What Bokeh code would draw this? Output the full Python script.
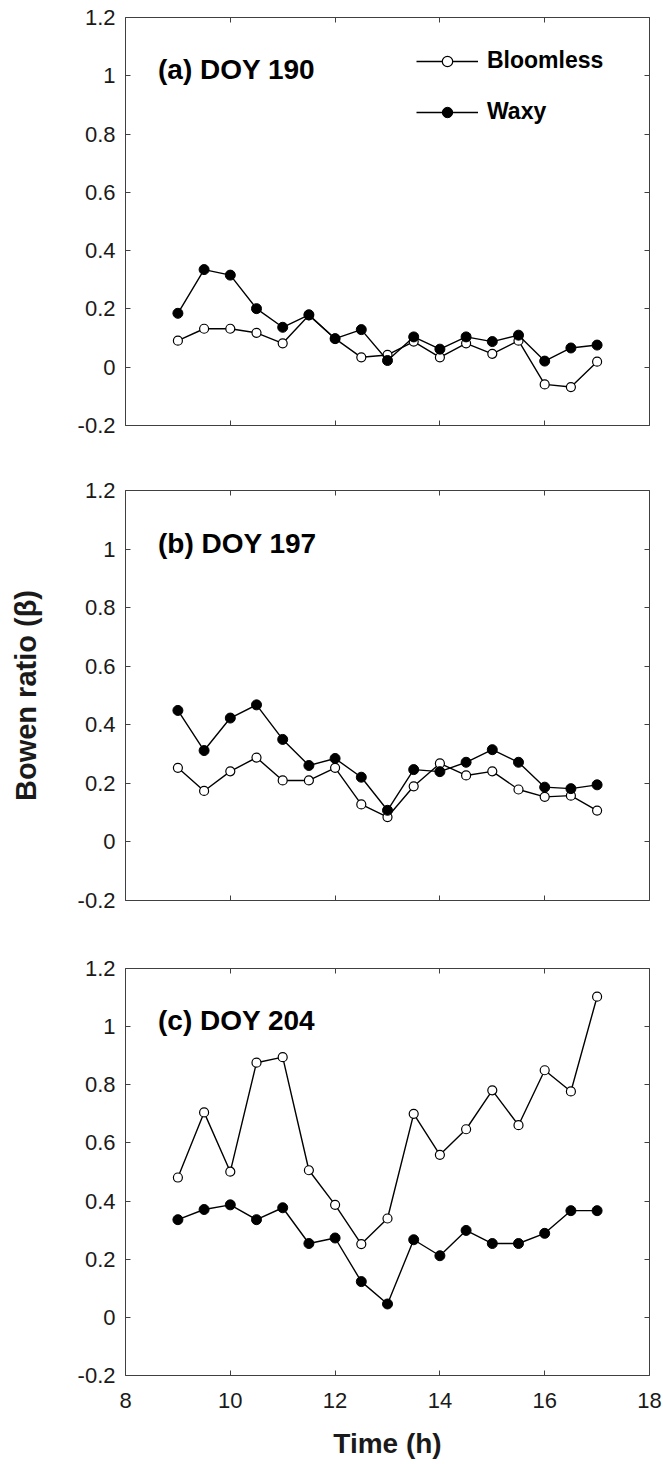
from bokeh.plotting import figure
from bokeh.layouts import column
from bokeh.models import Range1d, FixedTicker, LinearAxis, Label, Legend, LegendItem
from bokeh.embed import file_html
from bokeh.resources import INLINE

# ---------------- data ----------------
time_h = [9, 9.5, 10, 10.5, 11, 11.5, 12, 12.5, 13, 13.5, 14, 14.5, 15, 15.5, 16, 16.5, 17]

bloomless_190 = [0.091, 0.132, 0.132, 0.118, 0.082, 0.178, 0.098, 0.034, 0.042, 0.088,
                 0.034, 0.082, 0.046, 0.091, -0.059, -0.068, 0.019]
waxy_190 = [0.185, 0.335, 0.316, 0.201, 0.137, 0.180, 0.098, 0.129, 0.023, 0.104,
            0.062, 0.104, 0.088, 0.110, 0.021, 0.066, 0.076]

bloomless_197 = [0.253, 0.174, 0.241, 0.288, 0.210, 0.210, 0.253, 0.128, 0.085, 0.190,
                 0.268, 0.227, 0.241, 0.179, 0.154, 0.158, 0.107]
waxy_197 = [0.449, 0.312, 0.423, 0.468, 0.350, 0.261, 0.285, 0.221, 0.108, 0.247,
            0.240, 0.272, 0.315, 0.272, 0.187, 0.182, 0.195]

bloomless_204 = [0.481, 0.705, 0.501, 0.876, 0.895, 0.506, 0.387, 0.252, 0.340, 0.700,
                 0.559, 0.647, 0.781, 0.661, 0.850, 0.777, 1.103]
waxy_204 = [0.336, 0.371, 0.387, 0.336, 0.377, 0.254, 0.273, 0.123, 0.046, 0.267,
            0.212, 0.299, 0.254, 0.254, 0.289, 0.367, 0.367]

panel_titles = ["(a) DOY 190", "(b) DOY 197", "(c) DOY 204"]
series_names = ["Bloomless", "Waxy"]

x_ticks = [8, 10, 12, 14, 16, 18]
x_tick_labels = ["8", "10", "12", "14", "16", "18"]
y_ticks = [-0.2, 0, 0.2, 0.4, 0.6, 0.8, 1.0, 1.2]
y_tick_labels = ["-0.2", "0", "0.2", "0.4", "0.6", "0.8", "1", "1.2"]

x_label = "Time (h)"
y_label = "Bowen ratio (\u03b2)"

# ---------------- style ----------------
FONT = "Liberation Sans"
AX_COL = "#404040"
TXT_COL = "#1a1a1a"
W = 663
FRAME_LEFT = 125
FRAME_RIGHT = 14


def style_axis(ax, ticks, labels, show_labels, size="22px", standoff=10):
    ax.ticker = FixedTicker(ticks=ticks)
    ax.minor_tick_line_color = None
    ax.major_tick_in = 5
    ax.major_tick_out = 0
    ax.major_tick_line_color = AX_COL
    ax.axis_line_color = None
    ax.major_label_text_font = FONT
    ax.major_label_text_color = TXT_COL
    if show_labels:
        ax.major_label_overrides = {t: l for t, l in zip(ticks, labels)}
        ax.major_label_text_font_size = size
        ax.major_label_standoff = standoff
    else:
        ax.major_label_overrides = {t: "" for t in ticks}
        ax.major_label_text_font_size = "8px"
        ax.major_label_standoff = 0


def make_panel(idx, bloom, waxy, height, top, bottom, show_x, show_legend, show_ylab):
    p = figure(width=W, height=height, output_backend="svg", toolbar_location=None,
               x_range=Range1d(8, 18), y_range=Range1d(-0.2, 1.2),
               min_border_left=FRAME_LEFT, min_border_right=FRAME_RIGHT,
               min_border_top=top, min_border_bottom=bottom)
    p.grid.visible = False
    p.outline_line_color = AX_COL
    p.outline_line_width = 1
    p.background_fill_color = "white"
    p.border_fill_color = "white"

    bottom_ax = p.below[0]
    left_ax = p.left[0]
    style_axis(bottom_ax, x_ticks, x_tick_labels, show_x, standoff=17)
    style_axis(left_ax, y_ticks, y_tick_labels, True, standoff=10)

    if show_x:
        bottom_ax.axis_label = x_label
        bottom_ax.axis_label_text_font = FONT
        bottom_ax.axis_label_text_font_style = "bold"
        bottom_ax.axis_label_text_font_size = "28px"
        bottom_ax.axis_label_text_color = TXT_COL
        bottom_ax.axis_label_standoff = 17
    if show_ylab:
        left_ax.axis_label = y_label
        left_ax.axis_label_text_font = FONT
        left_ax.axis_label_text_font_style = "bold"
        left_ax.axis_label_text_font_size = "29px"
        left_ax.axis_label_text_color = TXT_COL
        left_ax.axis_label_standoff = 33

    top_ax = LinearAxis()
    style_axis(top_ax, x_ticks, x_tick_labels, False)
    p.add_layout(top_ax, "above")
    right_ax = LinearAxis()
    style_axis(right_ax, y_ticks, y_tick_labels, False)
    p.add_layout(right_ax, "right")

    lb = p.line(time_h, bloom, line_color="black", line_width=1.4)
    sb = p.scatter(time_h, bloom, size=9, marker="circle", fill_color="white",
                   line_color="black", line_width=1.2)
    lw = p.line(time_h, waxy, line_color="black", line_width=1.4)
    sw = p.scatter(time_h, waxy, size=10, marker="circle", fill_color="black",
                   line_color="black")

    p.add_layout(Label(x=8.62, y=1.02, text=panel_titles[idx], text_font=FONT,
                       text_font_style="bold", text_font_size="28px",
                       text_color="black", text_baseline="middle"))

    if show_legend:
        leg = Legend(items=[LegendItem(label=series_names[0], renderers=[lb, sb]),
                            LegendItem(label=series_names[1], renderers=[lw, sw])],
                     location=(291, 300), padding=0, margin=0,
                     border_line_color=None, background_fill_alpha=0,
                     glyph_width=62, glyph_height=26, label_height=26,
                     spacing=24, label_standoff=9,
                     label_text_font=FONT, label_text_font_style="bold",
                     label_text_font_size="23px", label_text_color="black")
        p.add_layout(leg)
    return p


pa = make_panel(0, bloomless_190, waxy_190, 457, 17, 32, False, True, False)
pb = make_panel(1, bloomless_197, waxy_197, 477, 33, 34, False, False, True)
pc = make_panel(2, bloomless_204, waxy_204, 530, 34, 89, True, False, False)

layout = column(pa, pb, pc, spacing=0)
open("out.html", "w").write(file_html(layout, INLINE))
